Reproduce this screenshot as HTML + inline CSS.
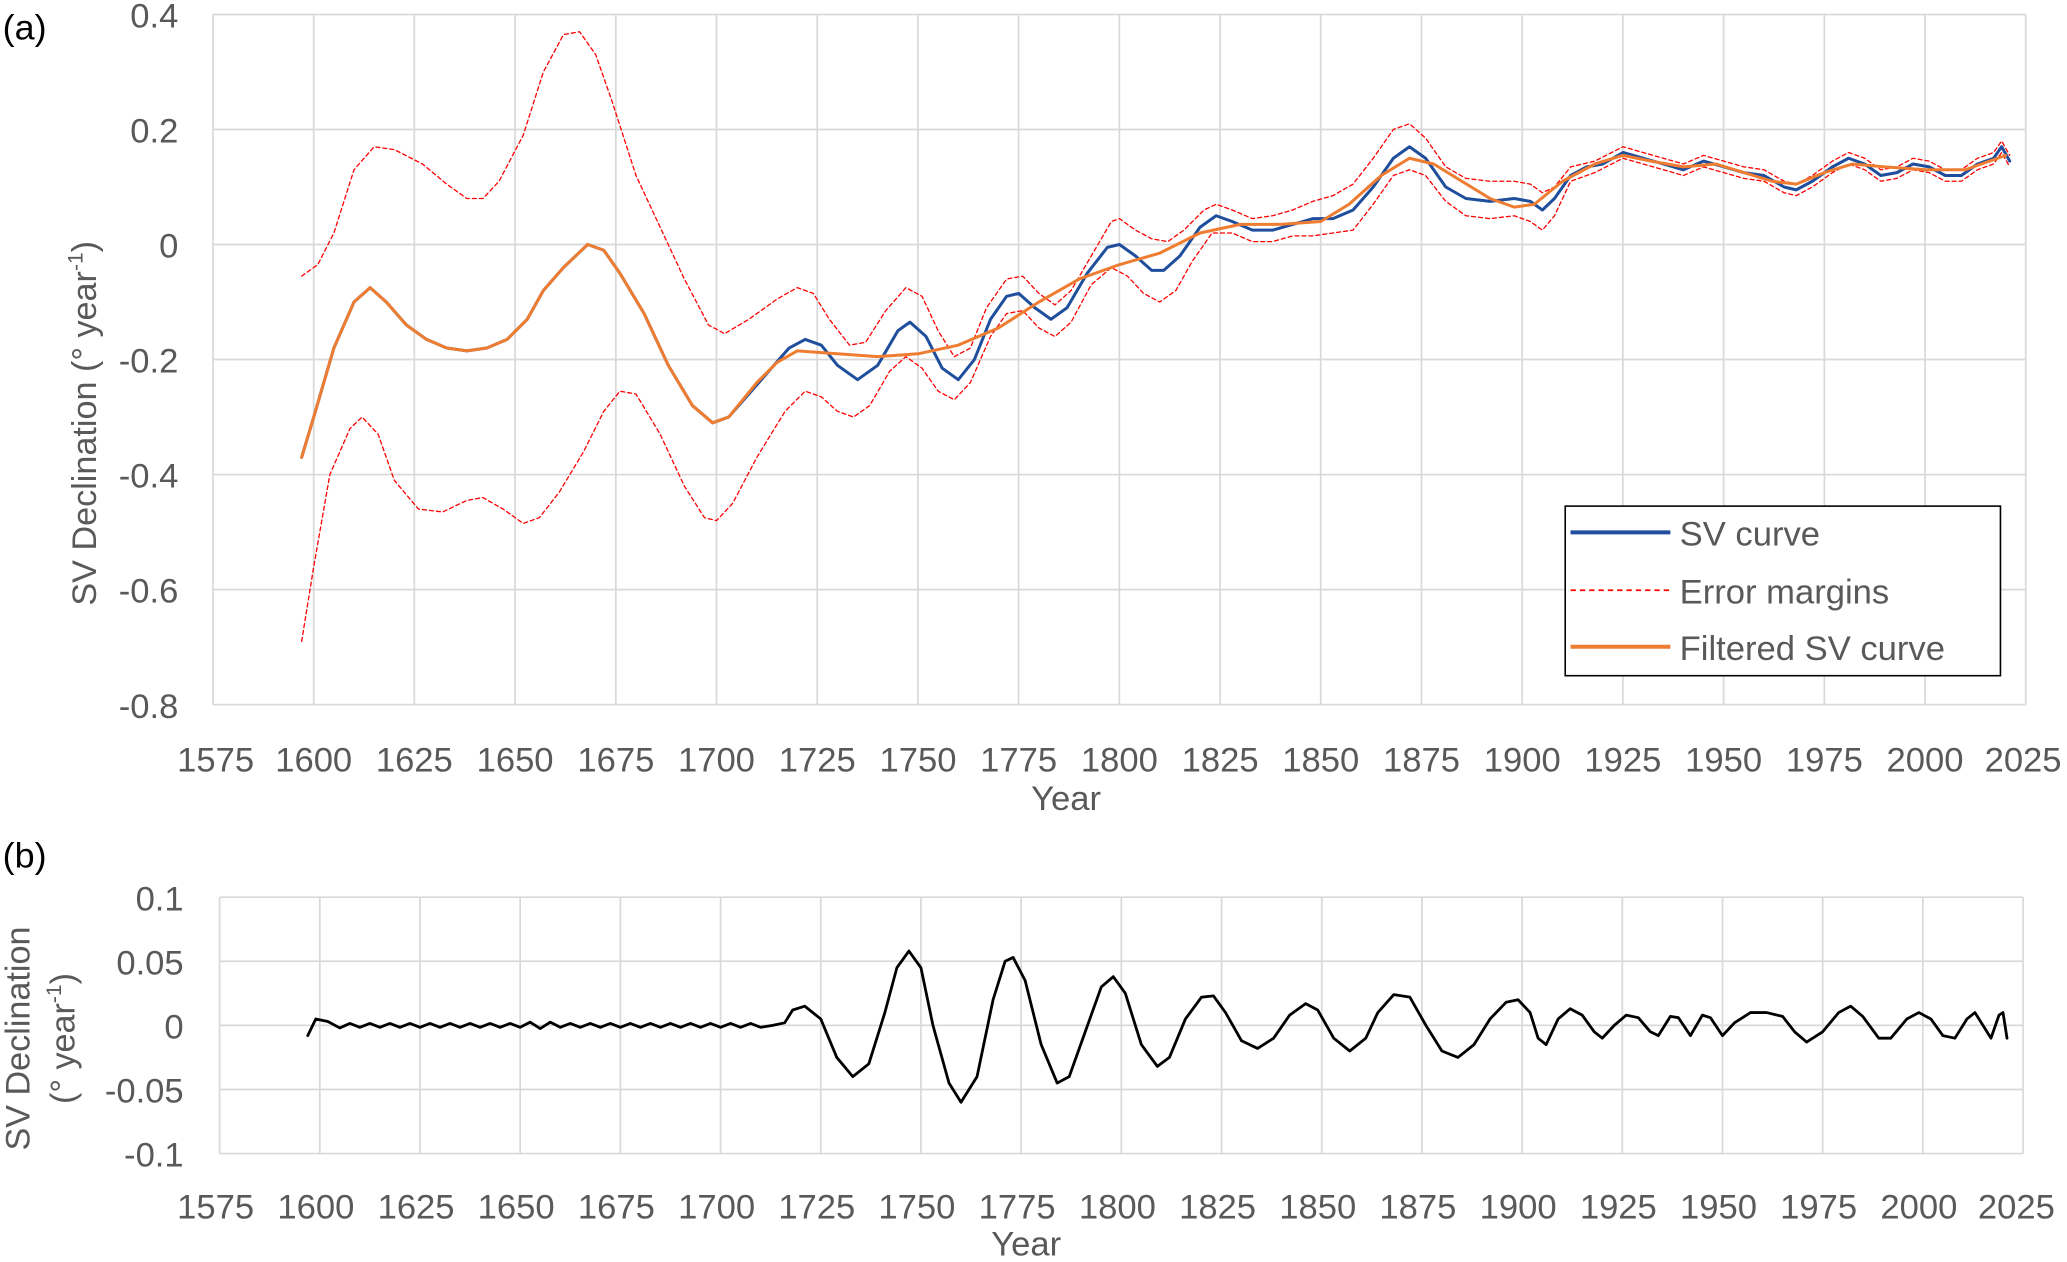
<!DOCTYPE html>
<html><head><meta charset="utf-8"><style>
html,body{margin:0;padding:0;background:#fff;}
svg{display:block;}
text{font-family:"Liberation Sans",sans-serif;fill:#595959;}
.ns{vector-effect:non-scaling-stroke;fill:none;stroke-linejoin:round;stroke-linecap:round;}
</style></head><body>
<svg width="2067" height="1262" viewBox="0 0 1553 960" preserveAspectRatio="none" xmlns="http://www.w3.org/2000/svg">
<g stroke="#d9d9d9" stroke-width="1.3" fill="none">
<path d="M160,11V536M235.7,11V536M311.3,11V536M387,11V536M462.7,11V536M538.3,11V536M614,11V536M689.7,11V536M765.3,11V536M841,11V536M916.7,11V536M992.3,11V536M1068,11V536M1143.7,11V536M1219.3,11V536M1295,11V536M1370.7,11V536M1446.3,11V536M1522,11V536"/>
<path d="M160,11H1522M160,98.5H1522M160,186H1522M160,273.5H1522M160,361H1522M160,448.5H1522M160,536H1522"/>
<path d="M165,682.5V877.5M240.3,682.5V877.5M315.6,682.5V877.5M390.8,682.5V877.5M466.1,682.5V877.5M541.4,682.5V877.5M616.7,682.5V877.5M691.9,682.5V877.5M767.2,682.5V877.5M842.5,682.5V877.5M917.8,682.5V877.5M993.1,682.5V877.5M1068.3,682.5V877.5M1143.6,682.5V877.5M1218.9,682.5V877.5M1294.2,682.5V877.5M1369.4,682.5V877.5M1444.7,682.5V877.5M1520,682.5V877.5"/>
<path d="M165,682.5H1520M165,731.25H1520M165,780H1520M165,828.75H1520M165,877.5H1520"/>
</g>
<g font-size="26" text-anchor="middle">
<text x="162" y="587">1575</text><text x="235.7" y="587">1600</text><text x="311.3" y="587">1625</text><text x="387" y="587">1650</text><text x="462.7" y="587">1675</text><text x="538.3" y="587">1700</text><text x="614" y="587">1725</text><text x="689.7" y="587">1750</text><text x="765.3" y="587">1775</text><text x="841" y="587">1800</text><text x="916.7" y="587">1825</text><text x="992.3" y="587">1850</text><text x="1068" y="587">1875</text><text x="1143.7" y="587">1900</text><text x="1219.3" y="587">1925</text><text x="1295" y="587">1950</text><text x="1370.7" y="587">1975</text><text x="1446.3" y="587">2000</text><text x="1520" y="587">2025</text>
<text x="162" y="927">1575</text><text x="237.3" y="927">1600</text><text x="312.6" y="927">1625</text><text x="387.8" y="927">1650</text><text x="463.1" y="927">1675</text><text x="538.4" y="927">1700</text><text x="613.7" y="927">1725</text><text x="688.9" y="927">1750</text><text x="764.2" y="927">1775</text><text x="839.5" y="927">1800</text><text x="914.8" y="927">1825</text><text x="990.1" y="927">1850</text><text x="1065.3" y="927">1875</text><text x="1140.6" y="927">1900</text><text x="1215.9" y="927">1925</text><text x="1291.2" y="927">1950</text><text x="1366.4" y="927">1975</text><text x="1441.7" y="927">2000</text><text x="1515" y="927">2025</text>
</g>
<g font-size="26" text-anchor="end">
<text x="134" y="21">0.4</text><text x="134" y="108.5">0.2</text><text x="134" y="196">0</text><text x="134" y="283.5">-0.2</text><text x="134" y="371">-0.4</text><text x="134" y="458.5">-0.6</text><text x="134" y="546">-0.8</text>
<text x="138" y="692.5">0.1</text><text x="138" y="741.25">0.05</text><text x="138" y="790">0</text><text x="138" y="838.75">-0.05</text><text x="138" y="887.5">-0.1</text>
</g>
<text x="2" y="30" font-size="27" style="fill:#000">(a)</text>
<text x="2" y="660" font-size="27" style="fill:#000">(b)</text>
<text transform="translate(72,322) rotate(-90)" text-anchor="middle" font-size="26">SV Declination (° year<tspan font-size="16" dy="-10">-1</tspan><tspan dy="10">)</tspan></text>
<text transform="translate(22,790) rotate(-90)" text-anchor="middle" font-size="26">SV Declination</text>
<text transform="translate(56,790) rotate(-90)" text-anchor="middle" font-size="26">(° year<tspan font-size="16" dy="-10">-1</tspan><tspan dy="10">)</tspan></text>
<text x="801" y="616" text-anchor="middle" font-size="26">Year</text>
<text x="771" y="955" text-anchor="middle" font-size="26">Year</text>

<g transform="matrix(3.0267 0 0 -437.5 -4607.0 186)">
<polyline class="ns" stroke="#ff0000" stroke-width="1.3" stroke-dasharray="4,3" points="1597,-0.055 1601,-0.035 1605,0.02 1610,0.13 1615,0.17 1620,0.165 1627,0.14 1633,0.105 1638,0.08 1642,0.08 1646,0.11 1652,0.19 1657,0.3 1662,0.365 1666,0.37 1670,0.33 1674,0.25 1680,0.12 1686,0.03 1692,-0.06 1698,-0.14 1702,-0.155 1708,-0.13 1715,-0.095 1720,-0.075 1724,-0.085 1728,-0.13 1733,-0.175 1737,-0.17 1742,-0.115 1747,-0.075 1751,-0.09 1755,-0.15 1759,-0.195 1763,-0.18 1767,-0.11 1772,-0.06 1776,-0.055 1780,-0.085 1784,-0.105 1788,-0.08 1793,-0.02 1798,0.04 1800,0.045 1804,0.025 1808,0.01 1812,0.005 1816,0.025 1821,0.06 1824,0.07 1828,0.06 1833,0.045 1838,0.05 1843,0.06 1848,0.075 1853,0.085 1858,0.105 1863,0.15 1868,0.2 1872,0.21 1876,0.185 1881,0.135 1886,0.115 1892,0.11 1898,0.11 1902,0.105 1905,0.09 1908,0.1 1912,0.135 1918,0.145 1925,0.17 1930,0.16 1935,0.15 1940,0.14 1945,0.155 1950,0.145 1955,0.135 1960,0.13 1965,0.11 1968,0.105 1972,0.12 1977,0.145 1981,0.16 1985,0.15 1989,0.13 1993,0.135 1997,0.15 2001,0.145 2005,0.13 2009,0.13 2013,0.15 2017,0.16 2019,0.18 2021,0.155"/>
<polyline class="ns" stroke="#ff0000" stroke-width="1.3" stroke-dasharray="4,3" points="1597,-0.69 1600,-0.56 1604,-0.4 1609,-0.32 1612,-0.3 1616,-0.33 1620,-0.41 1626,-0.46 1632,-0.465 1638,-0.445 1642,-0.44 1647,-0.46 1652,-0.485 1656,-0.475 1661,-0.43 1667,-0.36 1672,-0.29 1676,-0.255 1680,-0.26 1686,-0.33 1692,-0.42 1697,-0.475 1700,-0.48 1704,-0.45 1710,-0.37 1717,-0.29 1722,-0.255 1726,-0.265 1730,-0.29 1734,-0.3 1738,-0.28 1743,-0.22 1747,-0.195 1751,-0.215 1755,-0.255 1759,-0.27 1763,-0.24 1768,-0.16 1772,-0.12 1776,-0.115 1780,-0.145 1784,-0.16 1788,-0.135 1793,-0.07 1798,-0.04 1802,-0.055 1806,-0.085 1810,-0.1 1814,-0.08 1818,-0.03 1823,0.02 1828,0.02 1833,0.005 1838,0.005 1843,0.015 1848,0.015 1853,0.02 1858,0.025 1863,0.07 1868,0.12 1872,0.13 1876,0.12 1881,0.075 1886,0.05 1892,0.045 1898,0.05 1902,0.04 1905,0.025 1908,0.05 1912,0.11 1918,0.125 1925,0.15 1930,0.14 1935,0.13 1940,0.12 1945,0.135 1950,0.125 1955,0.115 1960,0.11 1965,0.09 1968,0.085 1972,0.1 1977,0.125 1981,0.14 1985,0.13 1989,0.11 1993,0.115 1997,0.13 2001,0.125 2005,0.11 2009,0.11 2013,0.13 2017,0.14 2019,0.16 2021,0.135"/>
<polyline class="ns" stroke="#1f4e9c" stroke-width="3" points="1597,-0.37 1600,-0.3 1605,-0.18 1610,-0.1 1614,-0.075 1618,-0.1 1623,-0.14 1628,-0.165 1633,-0.18 1638,-0.185 1643,-0.18 1648,-0.165 1653,-0.13 1657,-0.08 1662,-0.04 1668,0 1672,-0.01 1676,-0.05 1682,-0.12 1688,-0.21 1694,-0.28 1699,-0.31 1703,-0.3 1708,-0.26 1713,-0.22 1718,-0.18 1722,-0.165 1726,-0.175 1730,-0.21 1735,-0.235 1740,-0.21 1745,-0.15 1748,-0.135 1752,-0.16 1756,-0.215 1760,-0.235 1764,-0.2 1768,-0.13 1772,-0.09 1775,-0.085 1779,-0.11 1783,-0.13 1787,-0.11 1792,-0.05 1797,-0.005 1800,0 1804,-0.02 1808,-0.045 1811,-0.045 1815,-0.02 1820,0.03 1824,0.05 1828,0.04 1833,0.025 1838,0.025 1843,0.035 1848,0.045 1853,0.045 1858,0.06 1863,0.1 1868,0.15 1872,0.17 1876,0.15 1881,0.1 1886,0.08 1892,0.075 1898,0.08 1902,0.075 1905,0.06 1908,0.08 1912,0.12 1916,0.135 1920,0.14 1925,0.16 1930,0.15 1935,0.14 1940,0.13 1945,0.145 1950,0.135 1955,0.125 1960,0.12 1965,0.1 1968,0.095 1972,0.11 1977,0.135 1981,0.15 1985,0.14 1989,0.12 1993,0.125 1997,0.14 2001,0.135 2005,0.12 2009,0.12 2013,0.14 2017,0.15 2019,0.17 2021,0.145"/>
<polyline class="ns" stroke="#ee7d31" stroke-width="3" points="1597,-0.37 1600,-0.3 1605,-0.18 1610,-0.1 1614,-0.075 1618,-0.1 1623,-0.14 1628,-0.165 1633,-0.18 1638,-0.185 1643,-0.18 1648,-0.165 1653,-0.13 1657,-0.08 1662,-0.04 1668,0 1672,-0.01 1676,-0.05 1682,-0.12 1688,-0.21 1694,-0.28 1699,-0.31 1703,-0.3 1710,-0.24 1715,-0.205 1720,-0.185 1730,-0.19 1740,-0.195 1750,-0.19 1760,-0.175 1770,-0.145 1780,-0.1 1790,-0.06 1800,-0.035 1810,-0.015 1820,0.02 1830,0.035 1840,0.035 1850,0.04 1857,0.07 1865,0.12 1872,0.15 1878,0.14 1885,0.11 1892,0.08 1898,0.065 1903,0.07 1910,0.11 1918,0.14 1925,0.155 1932,0.145 1940,0.135 1948,0.14 1955,0.125 1962,0.11 1968,0.105 1975,0.125 1982,0.14 1990,0.135 2000,0.13 2010,0.13 2020,0.155"/>
</g>

<g transform="matrix(3.0111 0 0 -975 -4577.5 780)">
<polyline class="ns" stroke="#000" stroke-width="2.8" points="1597,-0.008 1599,0.005 1602,0.003 1605,-0.002 1607.5,0.0015 1610,-0.0015 1612.5,0.0015 1615,-0.0015 1617.5,0.0015 1620,-0.0015 1622.5,0.0015 1625,-0.0015 1627.5,0.0015 1630,-0.0015 1632.5,0.0015 1635,-0.0015 1637.5,0.0015 1640,-0.0015 1642.5,0.0015 1645,-0.0015 1647.5,0.0015 1650,-0.0015 1652.5,0.0025 1655,-0.0025 1657.5,0.0025 1660,-0.0015 1662.5,0.0015 1665,-0.0015 1667.5,0.0015 1670,-0.0015 1672.5,0.0015 1675,-0.0015 1677.5,0.0015 1680,-0.0015 1682.5,0.0015 1685,-0.0015 1687.5,0.0015 1690,-0.0015 1692.5,0.0015 1695,-0.0015 1697.5,0.0015 1700,-0.0015 1702.5,0.0015 1705,-0.0015 1707.5,0.0015 1710,-0.0015 1713,0.0 1716,0.002 1718,0.012 1721,0.015 1725,0.005 1729,-0.025 1733,-0.04 1737,-0.03 1741,0.01 1744,0.045 1747,0.058 1750,0.045 1753,0.0 1757,-0.045 1760,-0.06 1764,-0.04 1768,0.02 1771,0.05 1773,0.053 1776,0.035 1780,-0.015 1784,-0.045 1787,-0.04 1791,-0.005 1795,0.03 1798,0.038 1801,0.025 1805,-0.015 1809,-0.032 1812,-0.025 1816,0.005 1820,0.022 1823,0.023 1826,0.01 1830,-0.012 1834,-0.018 1838,-0.01 1842,0.008 1846,0.017 1849,0.012 1853,-0.01 1857,-0.02 1861,-0.01 1864,0.01 1868,0.024 1872,0.022 1876,0.0 1880,-0.02 1884,-0.025 1888,-0.015 1892,0.005 1896,0.018 1899,0.02 1902,0.01 1904,-0.01 1906,-0.015 1909,0.005 1912,0.013 1915,0.008 1918,-0.005 1920,-0.01 1923,0.0 1926,0.008 1929,0.006 1932,-0.005 1934,-0.008 1937,0.007 1939,0.006 1942,-0.008 1945,0.008 1947,0.006 1950,-0.008 1953,0.002 1957,0.01 1961,0.01 1965,0.007 1968,-0.005 1971,-0.013 1975,-0.005 1979,0.01 1982,0.015 1985,0.007 1989,-0.01 1992,-0.01 1996,0.005 1999,0.01 2002,0.005 2005,-0.008 2008,-0.01 2011,0.005 2013,0.01 2015,0.0 2017,-0.01 2019,0.008 2020,0.01 2021,-0.01"/>
</g>

<rect x="1176" y="385" width="327" height="129" fill="#fff" stroke="#000" stroke-width="1.2"/>
<line x1="1180" y1="405" x2="1255" y2="405" stroke="#1f4e9c" stroke-width="3"/>
<line x1="1180" y1="449" x2="1255" y2="449" stroke="#ff0000" stroke-width="1.3" stroke-dasharray="4,3"/>
<line x1="1180" y1="492" x2="1255" y2="492" stroke="#ee7d31" stroke-width="3"/>
<text x="1262" y="415" font-size="26">SV curve</text>
<text x="1262" y="459" font-size="26">Error margins</text>
<text x="1262" y="502" font-size="26">Filtered SV curve</text>
</svg>
</body></html>
